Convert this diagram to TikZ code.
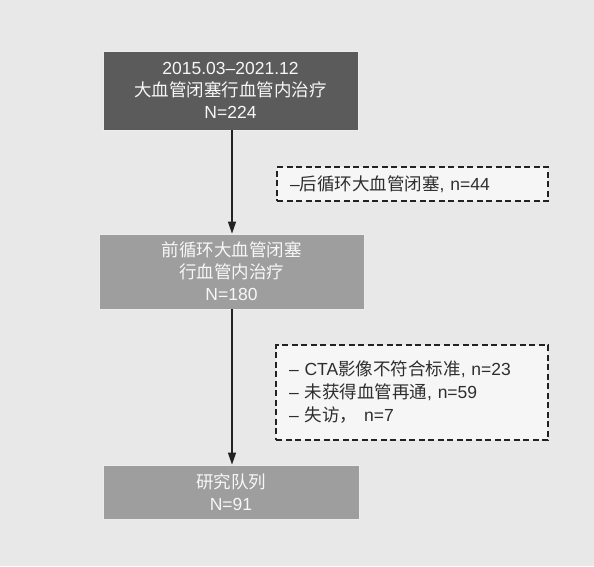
\documentclass[tikz,border=0pt]{standalone}
\usepackage{fontspec}
\setmainfont{Liberation Sans}
\newfontfamily\cjk{Noto Sans CJK SC}
\usetikzlibrary{arrows.meta}
\definecolor{bgcol}{HTML}{E8E8E8}
\definecolor{darkbox}{HTML}{5B5B5B}
\definecolor{midbox}{HTML}{9E9E9E}
\definecolor{notefill}{HTML}{F6F6F6}
\definecolor{linecol}{HTML}{222222}
\definecolor{txtdark}{HTML}{2E2E2E}
\begin{document}
\begin{tikzpicture}[x=1pt,y=-1pt,
  solidbox/.style={rectangle, draw=white!85!gray, line width=0.8pt, text=white!94!gray, align=center,
     font=\fontsize{17.5}{22}\selectfont, inner sep=0pt},
  notebox/.style={rectangle, draw=linecol, fill=notefill, line width=1.2pt, dash pattern=on 6pt off 3.5pt,
     text=txtdark, align=left, font=\fontsize{17.5}{23}\selectfont, inner xsep=13pt, inner ysep=0pt},
  arr/.style={draw=linecol, line width=1.4pt, -{Triangle[length=12pt,width=8pt]}}
]
\fill[bgcol] (0,0) rectangle (594,566);
\useasboundingbox (0,0) rectangle (594,566);

\node[solidbox, fill=darkbox, minimum width=255pt, minimum height=79pt] (b1) at (230.5,90.5)
  {2015.03–2021.12\\{\cjk 大血管闭塞行血管内治疗}\\N=224};
\node[solidbox, fill=midbox, minimum width=265pt, minimum height=75pt] (b2) at (231.5,271.5)
  {{\cjk 前循环大血管闭塞}\\{\cjk 行血管内治疗}\\N=180};
\node[solidbox, fill=midbox, minimum width=256pt, minimum height=54pt] (b3) at (231,492)
  {{\cjk 研究队列}\\N=91};

\node[notebox, text width=245pt, minimum height=34pt] (n1) at (412.5,184)
  {–{\cjk 后循环大血管闭塞}, n=44};
\node[notebox, text width=246pt, minimum height=95pt] (n2) at (412,392.5)
  {– CTA{\cjk 影像不符合标准}, n=23\\– {\cjk 未获得血管再通}, n=59\\– {\cjk 失访，}\hspace{7pt}n=7};

\coordinate (ax) at (232,0);
\draw[arr] (b1.south -| ax) -- (b2.north -| ax);
\draw[arr] (b2.south -| ax) -- (b3.north -| ax);
\end{tikzpicture}
\end{document}
